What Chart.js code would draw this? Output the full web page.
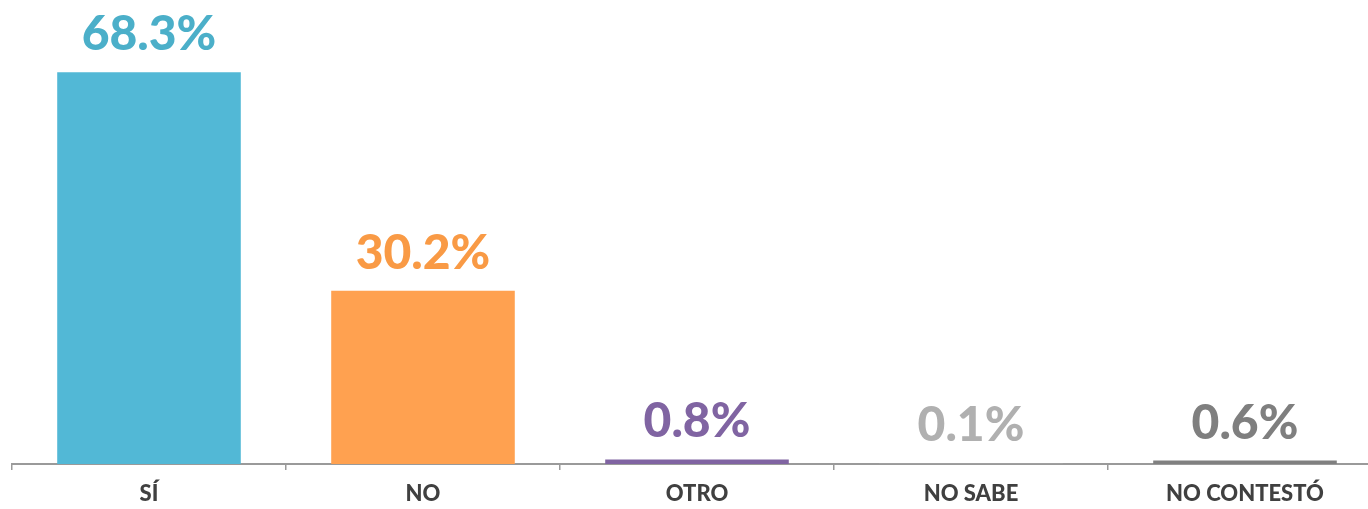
<!DOCTYPE html>
<html>
<head>
<meta charset="utf-8">
<script src="https://cdn.jsdelivr.net/npm/chart.js@4.4.0/dist/chart.umd.min.js"></script>
<style>
  html, body { margin: 0; padding: 0; background: #fff; overflow: hidden; }
  #wrap { width: 1400px; height: 509px; position: relative; }
</style>
</head>
<body>
<div id="wrap"><canvas id="c" width="1400" height="509"></canvas></div>
<script>
const categories = ["SÍ", "NO", "OTRO", "NO SABE", "NO CONTESTÓ"];
const values = [68.3, 30.2, 0.8, 0.1, 0.6];
const barColors = ["#52B8D6", "#FFA150", "#8064A2", "#A6A6A6", "#808080"];
const labelColors = ["#4BAFC9", "#F99A45", "#8064A2", "#B0B0B0", "#7F7F7F"];
const valueLabels = ["68.3%", "30.2%", "0.8%", "0.1%", "0.6%"];

const FONT = "'Lato', 'Noto Sans', sans-serif";

const labelPlugin = {
  id: 'valueLabels',
  afterDatasetsDraw(chart) {
    const ctx = chart.ctx;
    const meta = chart.getDatasetMeta(0);
    ctx.save();
    ctx.font = "900 48px " + FONT;
    ctx.textAlign = 'center';
    ctx.textBaseline = 'alphabetic';
    meta.data.forEach((bar, i) => {
      ctx.fillStyle = labelColors[i];
      ctx.fillText(valueLabels[i], bar.x, bar.y - 22);
    });
    ctx.restore();
  }
};

new Chart(document.getElementById('c'), {
  type: 'bar',
  data: {
    labels: categories,
    datasets: [{
      data: values,
      backgroundColor: barColors,
      categoryPercentage: 1.0,
      barPercentage: 0.67
    }]
  },
  options: {
    responsive: false,
    animation: false,
    layout: { padding: { left: 12, right: 18, top: 5, bottom: 0 } },
    plugins: { legend: { display: false }, tooltip: { enabled: false } },
    scales: {
      x: {
        offset: true,
        grid: { display: true, drawOnChartArea: false, drawTicks: true, tickLength: 6, color: '#9A9A9A', lineWidth: 1.5, offset: true },
        border: { display: true, color: '#9A9A9A', width: 2 },
        ticks: { color: '#404040', font: { family: FONT, size: 22, weight: '900' }, padding: 11 },
        afterFit(scale) { scale.height = 45; }
      },
      y: {
        display: false,
        min: 0,
        max: 80
      }
    }
  },
  plugins: [labelPlugin]
});
</script>
</body>
</html>
